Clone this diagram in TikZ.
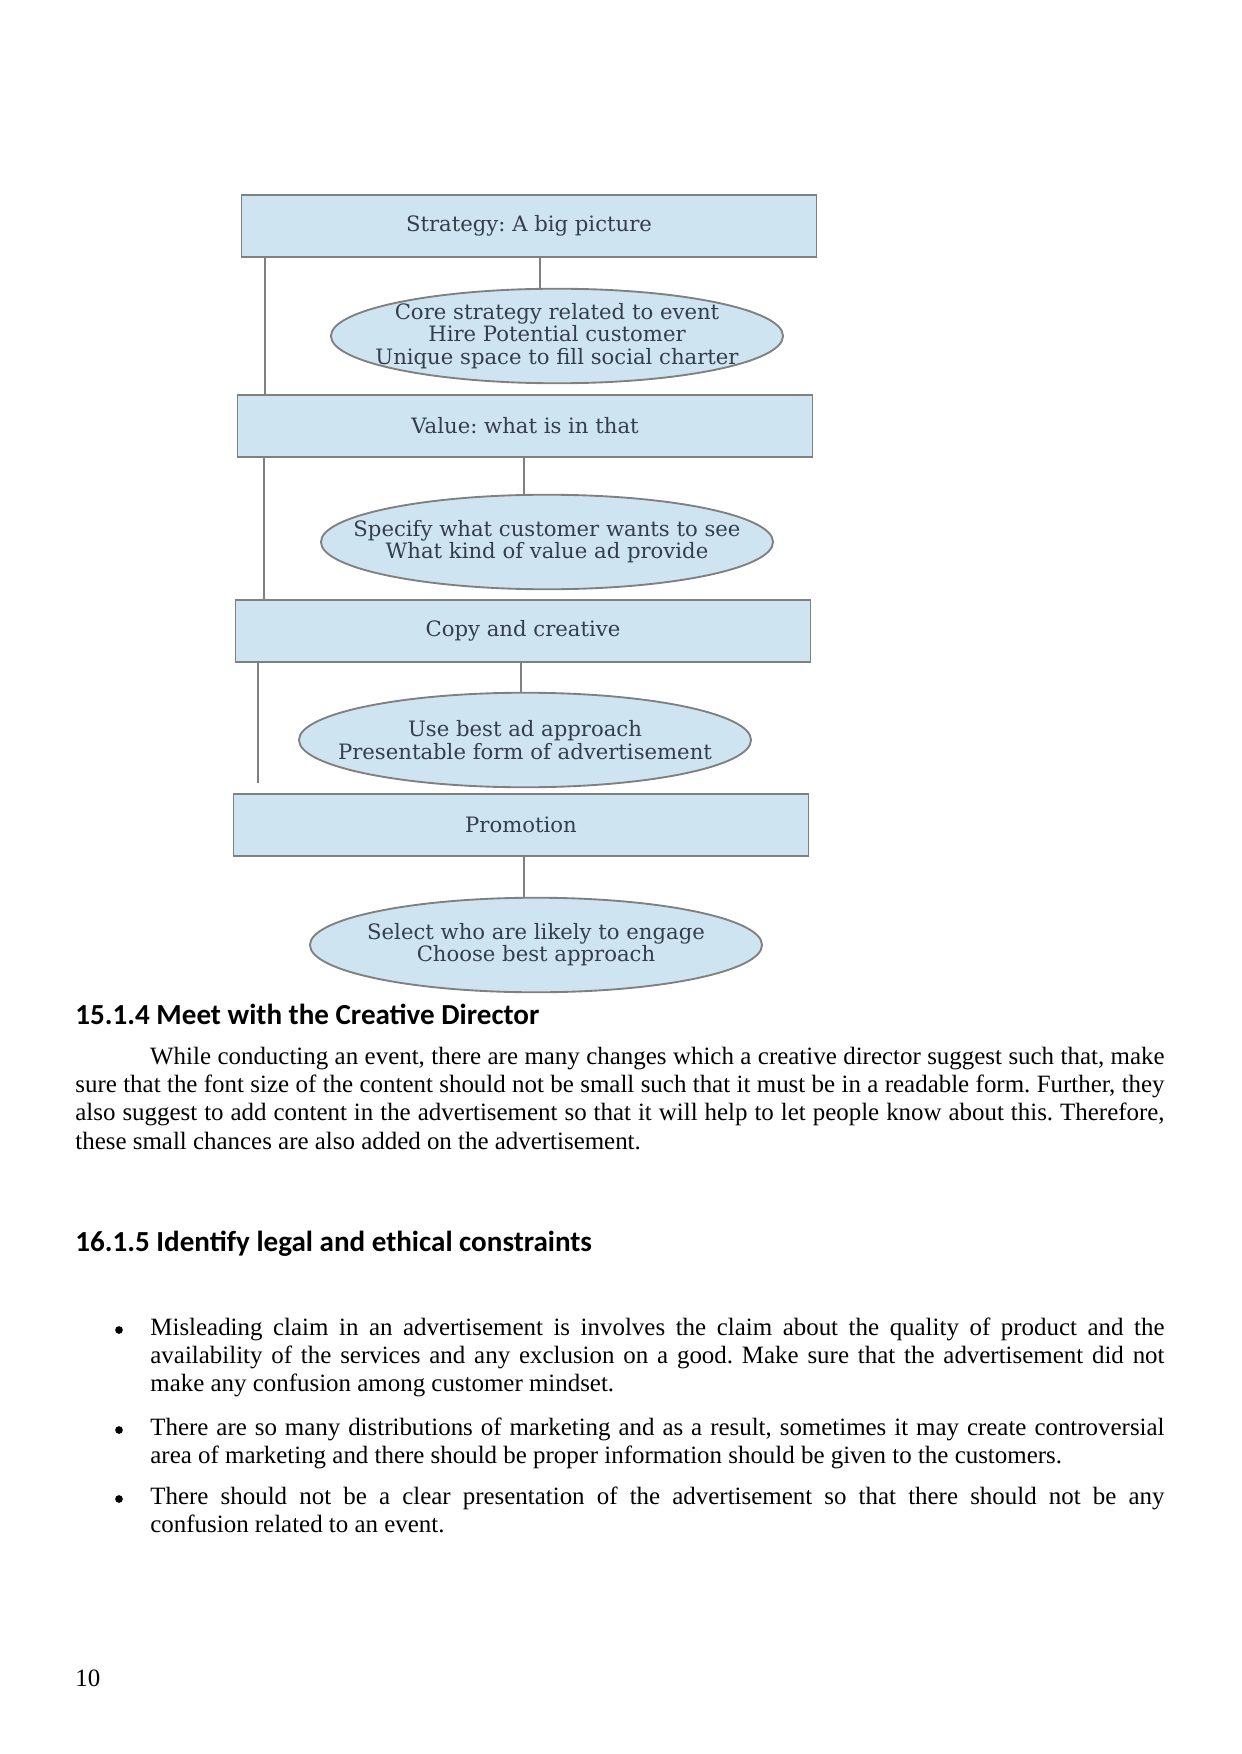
\documentclass[tikz,border=0pt]{standalone}
\usepackage{fontspec}
\setmainfont{Liberation Serif}[WordSpace={1,1.6,0}]
\newfontfamily\headfont{Carlito}
\newfontfamily\chartfont{DejaVu Serif}
\usetikzlibrary{shapes.geometric}
\definecolor{boxblue}{RGB}{207,228,241}
\definecolor{edgegray}{RGB}{128,128,128}
\definecolor{inkgray}{RGB}{52,62,74}
\frenchspacing
\hyphenpenalty=10000
\exhyphenpenalty=10000
\tolerance=10000

\begin{document}
\begin{tikzpicture}[x=0.016922cm, y=-0.016922cm,
    box/.style = {draw=edgegray, fill=boxblue, line width=0.9pt, minimum width=9.73cm, minimum height=1.04cm, inner sep=0pt, text=inkgray, font=\chartfont\fontsize{10.2}{10.7}\selectfont},
    oval/.style = {draw=edgegray, fill=boxblue, ellipse, line width=0.9pt, minimum width=7.65cm, minimum height=1.6cm, inner sep=0pt},
    lbl/.style = {align=center, inner sep=0pt, text=inkgray, font=\chartfont\fontsize{10.2}{10.7}\selectfont},
    link/.style = {draw=edgegray, line width=1.2pt},
    head/.style = {anchor=base west, inner sep=0pt, font=\headfont\bfseries\fontsize{14}{16}\selectfont},
    body/.style = {anchor=base west, inner sep=0pt, align=justify, font=\fontsize{12}{13.7}\selectfont},
    dot/.style = {circle, fill=black, inner sep=0pt, minimum size=0.13cm}]
    \useasboundingbox (0,0) rectangle (1241,1754);

    % chart
    \node[box] (strat) at (529,226) {Strategy: A big picture};
    \node[oval, label={[lbl]center:{Core strategy related to event\\Hire Potential customer\\Unique space to fill social charter}}] (core) at (557,336) {};
    \node[box] (value) at (525,426) {Value: what is in that};
    \node[oval, label={[lbl]center:{Specify what customer wants to see\\What kind of value ad provide}}] (spec) at (547,542) {};
    \node[box] (copy) at (523,631) {Copy and creative};
    \node[oval, label={[lbl]center:{Use best ad approach\\Presentable form of advertisement}}] (appr) at (525,740) {};
    \node[box] (promo) at (521,825) {Promotion};
    \node[oval, label={[lbl]center:{Select who are likely to engage\\Choose best approach}}] (engage) at (536,945) {};

    \draw[link] (strat.south -| 540,0) -- (core.north -| 540,0);
    \draw[link] (value.south -| 524,0) -- (spec.north -| 524,0);
    \draw[link] (copy.south -| 521,0) -- (appr.north -| 521,0);
    \draw[link] (promo.south -| 524,0) -- (engage.north -| 524,0);

    % left rail
    \draw[link] (strat.south -| 265,0) -- (value.north -| 265,0);
    \draw[link] (value.south -| 264,0) -- (copy.north -| 264,0);
    \coordinate (railend) at (258,783);
    \draw[link] (copy.south -| railend) -- (railend);

    % text
    \node[head] (h1) at (75,1024) {15.1.4 Meet with the Creative Director};
    \node[body, text width=18.43cm] (p1) at (75,1064) {\hspace*{36pt}While conducting an event, there are many changes which a creative director suggest such that, make sure that the font size of the content should not be small such that it must be in a readable form. Further, they also suggest to add content in the advertisement so that it will help to let people know about this. Therefore, these small chances are also added on the advertisement.};

    \node[head] (h2) at (75,1251) {16.1.5 Identify legal and ethical constraints};

    \node[dot] (d1) at (119,1330) {};
    \node[body, text width=17.16cm] (t1) at (150,1335) {Misleading claim in an advertisement is involves the claim about the quality of product and the availability of the services and any exclusion on a good. Make sure that the advertisement did not make any confusion among customer mindset.};
    \node[dot] (d2) at (119,1430) {};
    \node[body, text width=17.16cm] (t2) at (150,1435) {There are so many distributions of marketing and as a result, sometimes it may create controversial area of marketing and there should be proper information should be given to the customers.};
    \node[dot] (d3) at (119,1499) {};
    \node[body, text width=17.16cm] (t3) at (150,1504) {There should not be a clear presentation of the advertisement so that there should not be any confusion related to an event.};

    \node[body] (pg) at (75,1686) {10};
\end{tikzpicture}
\end{document}
